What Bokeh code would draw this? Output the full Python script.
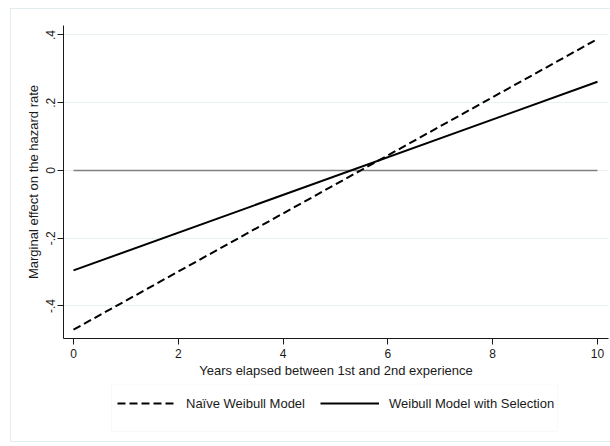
from bokeh.plotting import figure
from bokeh.layouts import column
from bokeh.models import Range1d, FixedTicker, Legend, LegendItem, BoxAnnotation
from bokeh.embed import file_html
from bokeh.resources import INLINE

# Marginal effect of the gap between experiences on the hazard rate
years = [0, 10]
naive_effect = [-0.470, 0.388]
selection_effect = [-0.295, 0.262]
zero_ref = [0.0, 0.0]

x_ticks = [0, 2, 4, 6, 8, 10]
y_ticks = [-0.4, -0.2, 0, 0.2, 0.4]
y_tick_labels = ["-.4", "-.2", "0", ".2", ".4"]

series_labels = ["Naïve Weibull Model", "Weibull Model with Selection"]

FONT = "Liberation Sans"
INK = "#1a1a1a"
PALE = "#e3ecee"

NAIVE_STYLE = dict(line_color="black", line_width=2, line_dash="8 4")
SEL_STYLE = dict(line_color="black", line_width=2)

# ---- main chart -------------------------------------------------------------
p = figure(width=610, height=383, output_backend="svg", toolbar_location=None,
           x_range=Range1d(-0.191, 10.21), y_range=Range1d(-0.496, 0.428),
           min_border_left=63, min_border_right=2, min_border_top=25,
           min_border_bottom=45)
p.outline_line_color = None
p.background_fill_color = "white"
p.border_fill_color = None

p.xaxis.ticker = FixedTicker(ticks=x_ticks)
p.yaxis.ticker = FixedTicker(ticks=y_ticks)
p.yaxis.major_label_overrides = {t: lab for t, lab in zip(y_ticks, y_tick_labels)}
p.yaxis.major_label_orientation = "vertical"
for ax in (p.xaxis, p.yaxis):
    ax.axis_line_color = INK
    ax.major_tick_line_color = INK
    ax.major_tick_out = 6
    ax.major_tick_in = 0
    ax.minor_tick_line_color = None
    ax.major_label_text_font = FONT
    ax.major_label_text_font_size = "12px"
    ax.major_label_text_color = INK
    ax.axis_label_text_font = FONT
    ax.axis_label_text_font_size = "13px"
    ax.axis_label_text_font_style = "normal"
    ax.axis_label_text_color = INK
p.xaxis.axis_label = "Years elapsed between 1st and 2nd experience"
p.yaxis.axis_label = "Marginal effect on the hazard rate"
p.xaxis.major_label_standoff = 4
p.xaxis.axis_label_standoff = 2
p.yaxis.major_label_standoff = 2
p.yaxis.axis_label_standoff = 3

p.xgrid.visible = False
p.ygrid.grid_line_color = "#e8f1f3"
p.ygrid.grid_line_width = 1

# reference line at zero
p.line(years, zero_ref, line_color="#808080", line_width=1.6)

p.line(years, naive_effect, **NAIVE_STYLE)
p.line(years, selection_effect, **SEL_STYLE)

# ---- legend strip -----------------------------------------------------------
# same series, drawn out of view; they only provide the legend keys
key = figure(width=610, height=63, output_backend="svg", toolbar_location=None,
             x_range=Range1d(0, 1), y_range=Range1d(10, 11),
             x_axis_location=None, y_axis_location=None, min_border=0)
key.outline_line_color = None
key.background_fill_color = None
key.border_fill_color = None
key.grid.visible = False
k_naive = key.line(years, naive_effect, **NAIVE_STYLE)
k_sel = key.line(years, selection_effect, **SEL_STYLE)

legend = Legend(items=[LegendItem(label=series_labels[0], renderers=[k_naive]),
                       LegendItem(label=series_labels[1], renderers=[k_sel])],
                location=(54, 25), orientation="horizontal", padding=0,
                spacing=15, margin=0, glyph_width=59, glyph_height=36,
                label_height=36, label_standoff=10,
                label_text_font=FONT, label_text_font_size="13px",
                label_text_color=INK, border_line_color=None,
                background_fill_alpha=0)
key.add_layout(legend)

# legend frame
key.add_layout(BoxAnnotation(left=111, right=557, top=0.5, bottom=48,
                             left_units="canvas", right_units="canvas",
                             top_units="canvas", bottom_units="canvas",
                             fill_color=None, line_color=PALE, line_width=1))

# page frame drawn behind both parts
page = column(p, key, spacing=0, styles={
    "background-color": "white",
    "background-image": ("linear-gradient(%s,%s), linear-gradient(%s,%s), "
                         "linear-gradient(%s,%s)") % ((PALE,) * 6),
    "background-size": "1px 434px, 610px 1px, 610px 1px",
    "background-position": "10px 8px, 10px 8px, 10px 441px",
    "background-repeat": "no-repeat",
})

open("out.html", "w").write(file_html(page, INLINE))
